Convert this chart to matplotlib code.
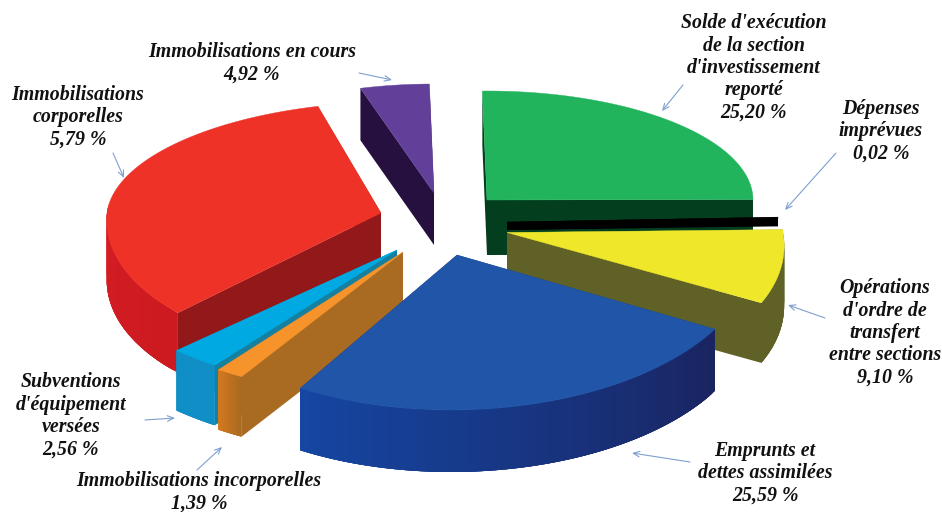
import numpy as np
import matplotlib
matplotlib.use("Agg")
import matplotlib.pyplot as plt
from matplotlib.patches import Polygon
from matplotlib.colors import to_rgb

# --- data -------------------------------------------------------------
categories = ["Solde d'exécution\nde la section\nd'investissement\nreporté",
              "Dépenses\nimprévues",
              "Opérations\nd'ordre de\ntransfert\nentre sections",
              "Emprunts et\ndettes assimilées",
              "Immobilisations incorporelles",
              "Subventions\nd'équipement\nversées",
              "Immobilisations\ncorporelles",
              "Immobilisations en cours"]
printed_values = ["25,20 %", "0,02 %", "9,10 %", "25,59 %", "1,39 %", "2,56 %", "5,79 %", "4,92 %"]
# shares as actually drawn in the picture (the slices do not follow the printed figures)
drawn_shares = [25.20, 0.02, 8.00, 25.59, 1.39, 2.56, 33.04, 4.20]

# --- style ------------------------------------------------------------
START = 91.0
# tip x, tip y, rx, ry up, ry down, shear, depth
geom = [(487, 200, 266, 109, 150, 0, 55),
        (507, 222, 271, 1000, 150, 0, 8),
        (507, 232.5, 276, 800, 147, -25, 60),
        (457, 255, 297, 155, 155, 6, 62),
        (403, 252, 316, 145, 145, 0, 60),
        (397, 250, 312, 142, 142, 0, 60),
        (381, 213, 274, 111, 141, 13.5, 60),
        (434, 193, 265, 109, 109, 0, 52)]
top_col = ["#22b45c", "#000000", "#efe82a", "#2055a8", "#f7932b", "#00a9e2", "#ee3228", "#62409a"]
side_col = ["#033f1f", "#000000", "#5f6126", "#1a2560", "#a96a22", "#15809f", "#92181a", "#26103f"]
# wall colour along the rim, from the clockwise start of the slice to its end
rim_col = [("#033f1f", "#033f1f"), ("#000000", "#000000"), ("#5f6126", "#5f6126"),
           ("#1a2460", "#1546a2"), ("#a96a22", "#d37a1d"), ("#0f8fc6", "#0f8fc6"),
           ("#cc1a20", "#e42028"), ("#26103f", "#26103f")]
draw_order = [0, 1, 2, 7, 6, 5, 4, 3]
label_xy = [(754, 68), (881, 131), (885, 333), (765, 473), (199, 492), (71, 416), (78, 117), (252, 63)]
arrows = [((683, 85), (662, 111)), ((836, 153), (785, 210)), ((825, 318), (788, 305)),
          ((690, 462), (632, 453)), ((197, 470), (222, 447)), ((145, 420), (175, 418)),
          ((113, 153), (124, 178)), ((359, 73), (392, 80))]

plt.rcParams["font.family"] = ["Liberation Serif", "DejaVu Serif"]
fig = plt.figure(figsize=(9.42, 5.12), dpi=100)
ax = fig.add_axes([0, 0, 1, 1])
ax.set_xlim(0, 942)
ax.set_ylim(512, 0)
ax.axis("off")


def rim(g, t):
    tx, ty, rx, ru, rd, sk, _ = g
    s, c = np.sin(t), np.cos(t)
    return tx + rx * c + sk * s, ty - np.where(s > 0, ru, rd) * s


edges = START - np.concatenate([[0], np.cumsum(drawn_shares)]) * 3.6
for i in draw_order:
    g = geom[i]
    z = 1 + draw_order.index(i)
    tip = np.array(g[:2], float)
    d = g[6]
    ts = np.radians(np.linspace(edges[i], edges[i + 1], 90))
    x, y = rim(g, ts)
    dn = np.array([0, d])
    # radial walls
    for k in (0, -1):
        e = np.array([x[k], y[k]])
        ax.add_patch(Polygon([tip, e, e + dn, tip + dn], fc=side_col[i], ec="none", zorder=z))
    # rim wall: each strip overlaps the next one so no seams show
    c0, c1 = np.array(to_rgb(rim_col[i][0])), np.array(to_rgb(rim_col[i][1]))
    n = len(ts)
    for k in range(n - 1):
        if np.sin((ts[k] + ts[k + 1]) / 2) > 0:
            continue
        m = min(k + 4, n - 1)
        col = c0 + (c1 - c0) * k / (n - 2)
        ax.add_patch(Polygon(np.r_[np.c_[x[k:m + 1], y[k:m + 1]], np.c_[x[k:m + 1], y[k:m + 1] + d][::-1]],
                             fc=col, ec="none", zorder=z))
    ax.add_patch(Polygon(np.vstack([tip, np.c_[x, y]]), fc=top_col[i], ec=top_col[i], lw=0.3, zorder=z + 0.5))

for cat, val, (lx, ly) in zip(categories, printed_values, label_xy):
    ax.text(lx, ly, cat + "\n" + val, ha="center", va="center", fontsize=14.3, style="italic",
            fontweight="bold", color="#111111", linespacing=1.16, zorder=20)

for a, b in arrows:
    ax.annotate("", xy=b, xytext=a, zorder=20,
                arrowprops=dict(arrowstyle="->,head_length=0.45,head_width=0.2", color="#7f9fd0", lw=0.8,
                                shrinkA=0, shrinkB=0))

fig.savefig("out.png", dpi=100, facecolor="white")
